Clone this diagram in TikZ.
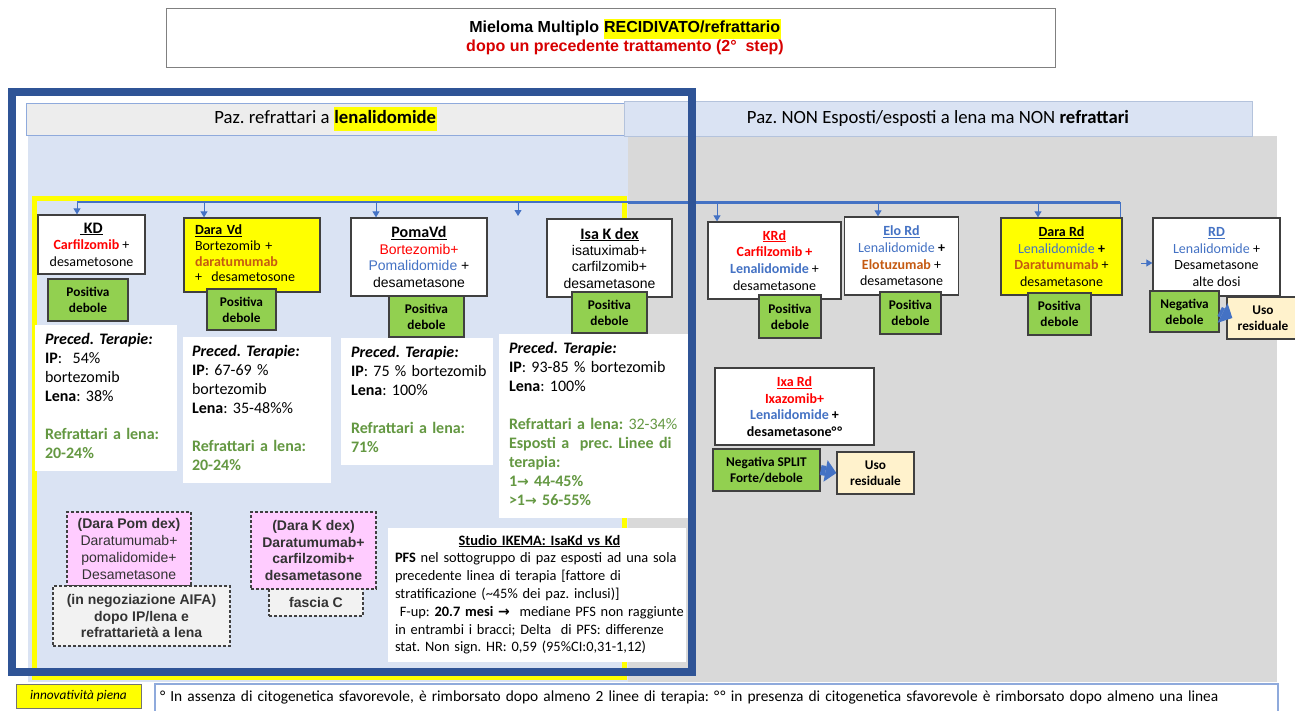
\documentclass[tikz,border=0pt]{standalone}
\usepackage{fontspec}
\setmainfont{Carlito}
\newfontfamily\arial{Liberation Sans}
\newfontfamily\dejavu{DejaVu Sans}
\usetikzlibrary{arrows.meta,calc}
\definecolor{frameblue}{RGB}{47,84,150}
\definecolor{panelblue}{RGB}{218,227,243}
\definecolor{panelgray}{RGB}{217,217,217}
\definecolor{hdrgray}{RGB}{237,237,237}
\definecolor{hdrborder}{RGB}{143,170,220}
\definecolor{hdrborderb}{RGB}{180,195,220}
\definecolor{linkblue}{RGB}{68,114,196}
\definecolor{okgreen}{RGB}{146,208,80}
\definecolor{txtgreen}{RGB}{100,152,66}
\definecolor{daraorange}{RGB}{197,90,17}
\definecolor{pinkbox}{RGB}{255,204,255}
\definecolor{cream}{RGB}{255,242,204}
\definecolor{boxgray}{RGB}{64,64,64}
\definecolor{dashgray}{RGB}{242,242,242}
\definecolor{titlered}{RGB}{215,0,0}
\definecolor{hlyellow}{RGB}{255,255,0}
\frenchspacing
\newcommand\sz[2]{\fontsize{#1}{#2}\selectfont}
\newcommand\arr{{\dejavu\bfseries\sz{14}{14}→}}
\newcommand\hl[1]{{\setlength{\fboxsep}{0.6pt}\colorbox{hlyellow}{\strut #1}}}
\newcommand\lines[1]{\begin{tabular}{@{}l@{}}#1\end{tabular}}
\begin{document}
\begin{tikzpicture}[x=1pt,y=-1pt,
  wh/.style 2 args={minimum width=#1, minimum height=#2},
  box/.style={draw=boxgray, line width=1.3pt, fill=white, inner sep=0pt, align=center, text=black},
  grn/.style={draw=black!75, line width=1.3pt, fill=okgreen, inner sep=0pt, align=center, font=\bfseries\sz{13.3}{16}},
  wbox/.style={fill=white, inner ysep=0pt, align=left, font=\sz{16}{19}},
  dbox/.style={draw=black!75, line width=1.2pt, dash pattern=on 3pt off 2pt, inner sep=0pt, align=center, text=black!80, font=\arial\sz{14}{16.7}},
  link/.style={draw=linkblue, line width=1pt, -{Triangle[length=6pt,width=7pt]}},
  blockarrow/.style={draw=linkblue, line width=10pt, -{Triangle[length=11pt,width=22pt,line width=0pt]}}
]
\clip (0,0) rectangle (1295,710);
\fill[white] (0,0) rectangle (1295,710);

% title
\node[draw=black!50, line width=1pt, fill=white, wh={889pt}{59pt}] (title) at (610.5,37.5) {};
\node[font=\arial\bfseries\sz{16}{18.5}, align=center, inner sep=0pt] (titletext) at (625,37)
  {Mieloma Multiplo \hl{RECIDIVATO/refrattario}\\\textcolor{titlered}{dopo un precedente trattamento (2°\ \ step)}};

% panels
\fill[panelblue] (28,135) rectangle (628,682);
\fill[panelgray] (628,136) rectangle (1277,682);
\node[draw=hdrborder, line width=1pt, fill=hdrgray, wh={599pt}{32pt}, font=\sz{18.7}{22}, inner sep=0pt] (lhead) at (325.5,119)
  {Paz. refrattari a \hl{\textbf{lenalidomide}}};
\node[draw=hdrborderb, line width=1pt, fill=panelblue, wh={628pt}{35pt}, font=\sz{18.7}{22}, inner sep=0pt] (rhead) at (938,118.5)
  {Paz. NON Esposti/esposti a lena ma NON \textbf{refrattari}};

% yellow frame
\draw[hlyellow, line width=5pt] (34,198) rectangle (624,677);

% bus
\coordinate (b0) at (77,202);
\coordinate (bm) at (628,202);
\coordinate (b1) at (1120,202);
\coordinate (b2) at (1120,263);
\draw[linkblue, line width=1.5pt] (b0) -- (bm);
\draw[linkblue, line width=3pt] (bm) -- (b1);
\draw[linkblue, line width=1pt] (b1) -- (b2);

% left boxes
\node[box, wh={107pt}{59pt}, font=\sz{14}{16.5}] (kd) at (91.5,244.5)
  {{\sz{16}{16.5}\underline{\ \textbf{KD}}}\\\textcolor{red}{\textbf{Carfilzomib}} +\\desametosone};
\node[box, fill=hlyellow, wh={136pt}{74pt}, align=left, text width=114pt, inner xsep=11pt, font=\sz{14}{15.8}] (daravd) at (252,255)
  {\lines{\underline{\textbf{Dara Vd}}\\Bortezomib +\\\textcolor{daraorange}{\textbf{daratumumab}}\\+\ \ desametosone}};
\node[box, wh={136pt}{78pt}, font=\arial\sz{14}{16.7}] (poma) at (419,257)
  {{\rmfamily\sz{16}{16.7}\underline{\textbf{PomaVd}}}\\\textcolor{red}{Bortezomib+}\\\textcolor{linkblue}{Pomalidomide} +\\desametasone};
\node[box, wh={125pt}{78pt}, font=\arial\sz{14}{16.3}] (isa) at (609.5,258)
  {{\rmfamily\sz{16}{16.3}\underline{\textbf{Isa K dex}}}\\isatuximab+\\carfilzomib+\\desametasone};

\coordinate (s1) at (77,202);
\coordinate (s2) at (204,202);
\coordinate (s3) at (376,202);
\coordinate (s4) at (518,202);
\coordinate (s4e) at (518,216);
\draw[link] (s1) -- (s1 |- kd.north);
\draw[link] (s2) -- (s2 |- daravd.north);
\draw[link] (s3) -- (s3 |- poma.north);
\draw[link] (s4) -- (s4e);

\node[grn, wh={80pt}{42pt}] (p1) at (88,300) {Positiva\\debole};
\node[grn, wh={69pt}{41pt}] (p2) at (241.5,309.5) {Positiva\\debole};
\node[grn, wh={75pt}{41pt}] (p3) at (426.5,316.5) {Positiva\\debole};
\node[grn, wh={75pt}{41pt}] (p4) at (609.5,312.5) {Positiva\\debole};

\node[wbox, wh={142pt}{146pt}, text width=122pt, inner xsep=10pt] (pre1) at (106,398)
  {\lines{\textbf{\textit{Preced. Terapie:}}\\\textbf{IP}:\ \ 54\%\\bortezomib\\\textbf{Lena}: 38\%\\ \\
   \textcolor{txtgreen}{\textbf{Refrattari a lena:}}\\\textcolor{txtgreen}{\textbf{20-24\%}}}};
\node[wbox, wh={148pt}{146pt}, text width=130pt, inner xsep=9pt] (pre2) at (257,410)
  {\lines{\textbf{\textit{Preced. Terapie:}}\\\textbf{IP}: 67-69 \%\\bortezomib\\\textbf{Lena}: 35-48\%\%\\ \\
   \textcolor{txtgreen}{\textbf{Refrattari a lena:}}\\\textcolor{txtgreen}{\textbf{20-24\%}}}};
\node[wbox, wh={152pt}{127pt}, text width=132pt, inner xsep=10pt] (pre3) at (417,401.5)
  {\lines{\textbf{\textit{Preced. Terapie:}}\\\textbf{IP}: 75 \% bortezomib\\\textbf{Lena}: 100\%\\ \\
   \textcolor{txtgreen}{\textbf{Refrattari a lena:}}\\\textcolor{txtgreen}{\textbf{71\%}}}};
\node[wbox, wh={189pt}{184pt}, text width=169pt, inner xsep=10pt] (pre4) at (593.5,426)
  {\lines{\textbf{\textit{Preced. Terapie:}}\\\textbf{IP}: 93-85 \% bortezomib\\\textbf{Lena}: 100\%\\ \\
   \textcolor{txtgreen}{\textbf{Refrattari a lena:} 32-34\%}\\
   \textcolor{txtgreen}{\textbf{Esposti a\ \ prec. Linee di}}\\
   \textcolor{txtgreen}{\textbf{terapia:}}\\
   \textcolor{txtgreen}{\textbf{1\arr\ 44-45\%}}\\
   \textcolor{txtgreen}{\textbf{>1\arr\ 56-55\%}}}};

% dashed boxes
\node[dbox, fill=pinkbox, wh={124pt}{74pt}] (darapom) at (129,549)
  {\textbf{(Dara Pom dex)}\\Daratumumab+\\pomalidomide+\\Desametasone};
\node[dbox, fill=dashgray, wh={177pt}{60pt}, font=\arial\bfseries\sz{14}{16.5}] (nego) at (141.5,616)
  {(in negoziazione AIFA)\\dopo IP/lena e\\refrattariet\`a a lena};
\node[dbox, fill=pinkbox, wh={125pt}{77pt}, font=\arial\bfseries\sz{14}{16.7}] (darak) at (313.5,550.5)
  {(Dara K dex)\\Daratumumab+\\carfilzomib+\\desametasone};
\node[dbox, fill=dashgray, wh={94pt}{27pt}, font=\arial\bfseries\sz{14}{16.7}] (fascia) at (316,602.5) {fascia C};

% IKEMA
\node[fill=white, wh={298pt}{134pt}, text width=284pt, inner xsep=7pt, inner ysep=0pt, align=left, font=\sz{14.4}{17.8}] (ikema) at (537,595)
  {\lines{\multicolumn{1}{@{}c@{}}{\underline{\textbf{Studio IKEMA: IsaKd vs Kd}}}\\
   \textbf{PFS} nel sottogruppo di paz esposti ad una sola\\
   precedente linea di terapia [fattore di\\
   stratificazione (\textasciitilde45\% dei paz. inclusi)]\\
   \ F-up: \textbf{20.7 mesi \arr}\ \ mediane PFS non raggiunte\\
   in entrambi i bracci; Delta\ \ di PFS: differenze\\
   stat. Non sign. HR: 0,59 (95\%CI:0,31-1,12)}};

% right boxes
\node[box, wh={133pt}{77pt}, font=\sz{14}{16.8}] (krd) at (774.5,260.5)
  {\textcolor{red}{\underline{\textbf{KRd}}}\\\textcolor{red}{\textbf{Carfilzomib +}}\\\textcolor{linkblue}{\textbf{Lenalidomide}} +\\desametasone};
\node[box, wh={114pt}{78pt}, font=\sz{14}{16.7}] (elo) at (901.5,256)
  {\textcolor{linkblue}{\underline{\textbf{Elo Rd}}}\\\textcolor{linkblue}{Lenalidomide} \textbf{+}\\\textcolor{daraorange}{\textbf{Elotuzumab}} +\\desametasone};
\node[box, fill=hlyellow, wh={121pt}{77pt}, font=\sz{14}{16.7}] (darard) at (1061.5,256.5)
  {\underline{\textbf{Dara Rd}}\\\textcolor{linkblue}{Lenalidomide} \textbf{+}\\\textcolor{daraorange}{\textbf{Daratumumab}} +\\desametasone};
\node[box, wh={127pt}{78pt}, font=\sz{14}{16.7}] (rd) at (1216.5,257)
  {\textcolor{linkblue}{\underline{\textbf{RD}}}\\\textcolor{linkblue}{Lenalidomide} +\\Desametasone\\alte dosi};

\coordinate (s5) at (717,202);
\coordinate (s6) at (878,202);
\coordinate (s7) at (1038,202);
\coordinate (rdin) at (1141,263);
\draw[link] (s5) -- (s5 |- krd.north);
\draw[link] (s6) -- (s6 |- elo.north);
\draw[link] (s7) -- (s7 |- darard.north);
\draw[link] (rdin) -- (rdin -| rd.west);

\node[grn, wh={62pt}{43pt}] (p5) at (790,316.5) {Positiva\\debole};
\node[grn, wh={61pt}{42pt}] (p6) at (910.5,313) {Positiva\\debole};
\node[grn, wh={63pt}{42pt}] (p7) at (1059.5,314) {Positiva\\debole};
\node[grn, wh={69pt}{41pt}] (neg) at (1184.5,311.5) {Negativa\\debole};
\node[draw=black!75, line width=1.3pt, fill=cream, wh={72pt}{42pt}, inner sep=0pt, align=center, font=\bfseries\sz{13.3}{16}] (uso) at (1263,318) {Uso\\residuale};
\draw[blockarrow] (neg.east) -- ([xshift=6pt]uso.west);

\node[box, wh={159pt}{77pt}, font=\sz{14}{16.5}] (ixa) at (794.5,406.5)
  {\textcolor{red}{\underline{\textbf{Ixa Rd}}}\\\textcolor{red}{\textbf{Ixazomib+}}\\\textcolor{linkblue}{\textbf{Lenalidomide}} \textbf{+}\\\textbf{desametasone°\kern0.8pt°}};
\node[grn, wh={107pt}{42pt}] (neg2) at (766.5,470) {Negativa SPLIT\\Forte/debole};
\node[draw=black!75, line width=1.3pt, fill=cream, wh={77pt}{42pt}, inner sep=0pt, align=center, font=\bfseries\sz{13.3}{16}] (uso2) at (875.5,473) {Uso\\residuale};
\draw[blockarrow] (neg2.east) -- (uso2.west);

% dark frame
\draw[frameblue, line width=8pt] (11.5,91.5) rectangle (691.5,671.5);

% bottom
\node[draw=black!55, line width=1pt, fill=hlyellow, wh={125pt}{24pt}, inner sep=0pt, font=\itshape\sz{13.3}{15}] (innov) at (78.5,696) {innovativit\`a piena};
\node[draw=hdrborder, line width=1.2pt, fill=white, wh={1123pt}{28pt}, text width=1113pt, inner xsep=5pt, inner ysep=0pt, align=left, font=\sz{15.4}{17}] (note) at (716.5,698)
  {\lines{° In assenza di citogenetica sfavorevole, è rimborsato dopo almeno 2 linee di terapia: °\kern1pt° in presenza di citogenetica sfavorevole è rimborsato dopo almeno una linea}};
\end{tikzpicture}
\end{document}
